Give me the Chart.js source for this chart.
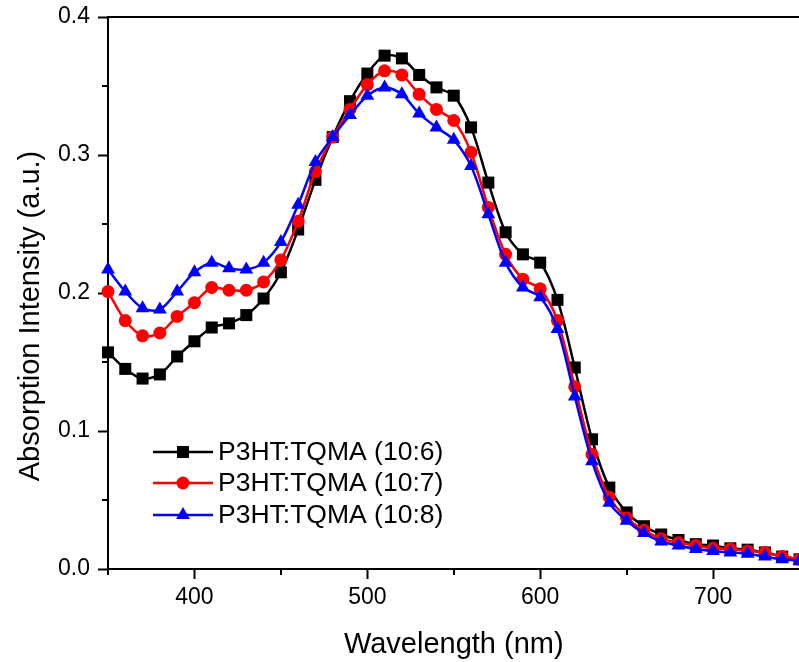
<!DOCTYPE html>
<html lang="en">
<head>
  <meta charset="UTF-8">
  <title>Absorption spectra - P3HT:TQMA</title>
  <script src="https://cdn.jsdelivr.net/npm/chart.js"></script>
  <style>
    html, body { margin: 0; padding: 0; background: #fff; overflow: hidden; }
    canvas { display: block; }
  </style>
</head>
<body>
  <canvas id="absChart" width="808" height="662"></canvas>
  <script>
    // wavelengths (nm)
    const wavelengths = [350, 360, 370, 380, 390, 400, 410, 420, 430, 440, 450, 460, 470, 480, 490,
      500, 510, 520, 530, 540, 550, 560, 570, 580, 590, 600, 610, 620, 630, 640, 650,
      660, 670, 680, 690, 700, 710, 720, 730, 740, 750];

    const ratio106 = [0.157, 0.145, 0.138, 0.141, 0.154, 0.165, 0.175, 0.178, 0.184, 0.196, 0.215,
      0.246, 0.282, 0.313, 0.339, 0.359, 0.372, 0.370, 0.358, 0.349, 0.343,
      0.320, 0.280, 0.244, 0.228, 0.222, 0.195, 0.146, 0.094, 0.059, 0.041,
      0.031, 0.025, 0.021, 0.018, 0.017, 0.015, 0.014, 0.012, 0.009, 0.007];

    const ratio107 = [0.201, 0.180, 0.169, 0.171, 0.183, 0.193, 0.204, 0.202, 0.202, 0.208, 0.224,
      0.252, 0.288, 0.313, 0.333, 0.351, 0.361, 0.358, 0.344, 0.333, 0.325,
      0.302, 0.262, 0.228, 0.210, 0.203, 0.180, 0.132, 0.083, 0.052, 0.037,
      0.028, 0.022, 0.019, 0.017, 0.015, 0.0145, 0.013, 0.012, 0.009, 0.007];

    const ratio108 = [0.217, 0.201, 0.189, 0.188, 0.201, 0.215, 0.222, 0.218, 0.217, 0.222, 0.237,
      0.264, 0.295, 0.313, 0.329, 0.343, 0.349, 0.344, 0.330, 0.320, 0.311,
      0.292, 0.257, 0.222, 0.204, 0.197, 0.174, 0.125, 0.078, 0.048, 0.035,
      0.026, 0.020, 0.017, 0.0145, 0.013, 0.012, 0.011, 0.009, 0.007, 0.006];

    const seriesLabels = ['P3HT:TQMA (10:6)', 'P3HT:TQMA (10:7)', 'P3HT:TQMA (10:8)'];
    const xMinorTicks = [350, 450, 550, 650, 750];
    const yMinorTicks = [0.05, 0.15, 0.25, 0.35];
    const yTitle = 'Absorption Intensity (a.u.)';

    const FONT = '"Liberation Sans", Arial, sans-serif';

    function toPoints(ys) {
      return wavelengths.map((x, i) => ({ x: x, y: ys[i] }));
    }

    function drawMarker(ctx, style, x, y, r) {
      ctx.beginPath();
      if (style === 'rect') {
        const s = r * Math.SQRT1_2;
        ctx.rect(x - s, y - s, 2 * s, 2 * s);
      } else if (style === 'triangle') {
        ctx.moveTo(x, y - r);
        ctx.lineTo(x + r * 0.866, y + r * 0.5);
        ctx.lineTo(x - r * 0.866, y + r * 0.5);
        ctx.closePath();
      } else {
        ctx.arc(x, y, r, 0, Math.PI * 2);
      }
      ctx.fill();
    }

    // frame top line, minor ticks, y title and legend inside the plot
    const decorations = {
      id: 'decorations',
      afterDraw(chart) {
        const ctx = chart.ctx;
        const area = chart.chartArea;
        const xs = chart.scales.x;
        const ys = chart.scales.y;
        ctx.save();
        ctx.strokeStyle = '#000';
        ctx.lineWidth = 2;
        ctx.beginPath();
        ctx.moveTo(area.left - 1, area.top);
        ctx.lineTo(area.right + 2, area.top);
        ctx.stroke();

        ctx.beginPath();
        xMinorTicks.forEach(v => {
          const px = Math.round(xs.getPixelForValue(v));
          ctx.moveTo(px, area.bottom);
          ctx.lineTo(px, area.bottom + 6);
        });
        yMinorTicks.forEach(v => {
          const py = Math.round(ys.getPixelForValue(v));
          ctx.moveTo(area.left, py);
          ctx.lineTo(area.left - 6, py);
        });
        ctx.stroke();

        // y axis title
        ctx.save();
        ctx.translate(31, 316);
        ctx.rotate(-Math.PI / 2);
        ctx.fillStyle = '#000';
        ctx.font = '29px ' + FONT;
        ctx.textAlign = 'center';
        ctx.textBaseline = 'middle';
        ctx.fillText(yTitle, 0, 0);
        ctx.restore();

        // legend
        const rows = [452, 483, 515];
        chart.data.datasets.forEach((ds, i) => {
          const y = rows[i];
          ctx.strokeStyle = ds.borderColor;
          ctx.lineWidth = 2.5;
          ctx.beginPath();
          ctx.moveTo(153, y);
          ctx.lineTo(213, y);
          ctx.stroke();
          ctx.fillStyle = ds.borderColor;
          drawMarker(ctx, ds.pointStyle, 183, y, ds.pointRadius);
          ctx.fillStyle = '#000';
          ctx.font = '26.5px ' + FONT;
          ctx.textBaseline = 'middle';
          ctx.textAlign = 'left';
          ctx.fillText(ds.label, 218, y + 1);
        });
        ctx.restore();
      }
    };

    const ctx = document.getElementById('absChart').getContext('2d');
    new Chart(ctx, {
      type: 'line',
      data: {
        datasets: [
          {
            label: seriesLabels[0],
            data: toPoints(ratio106),
            borderColor: '#000000',
            backgroundColor: '#000000',
            pointStyle: 'rect',
            pointRadius: 8.5,
            order: 3
          },
          {
            label: seriesLabels[1],
            data: toPoints(ratio107),
            borderColor: '#ff0000',
            backgroundColor: '#ff0000',
            pointStyle: 'circle',
            pointRadius: 6.5,
            order: 2
          },
          {
            label: seriesLabels[2],
            data: toPoints(ratio108),
            borderColor: '#0000ff',
            backgroundColor: '#0000ff',
            pointStyle: 'triangle',
            pointRadius: 8,
            order: 1
          }
        ]
      },
      options: {
        responsive: false,
        animation: false,
        clip: false,
        layout: { padding: { top: 17, right: 1, left: 0, bottom: 0 } },
        elements: {
          line: { borderWidth: 2.5, tension: 0.3, fill: false },
          point: { borderWidth: 0, hoverRadius: 6 }
        },
        plugins: {
          legend: { display: false },
          tooltip: { enabled: false }
        },
        scales: {
          x: {
            type: 'linear',
            min: 350,
            max: 750,
            afterFit(scale) {
              scale.height = 93;
              scale.paddingLeft = 0;
              scale.paddingRight = 0;
            },
            afterBuildTicks(scale) {
              scale.ticks = scale.ticks.filter(t => t.value % 100 === 0);
            },
            ticks: {
              stepSize: 50,
              color: '#000',
              padding: 5,
              maxRotation: 0,
              autoSkip: false,
              font: { family: FONT, size: 23 }
            },
            grid: {
              drawOnChartArea: false,
              drawTicks: true,
              tickLength: 10,
              tickWidth: 2,
              tickColor: '#000'
            },
            border: { display: true, color: '#000', width: 2 },
            title: {
              display: true,
              text: 'Wavelength (nm)',
              color: '#000',
              font: { family: FONT, size: 29 },
              padding: { top: 0, bottom: 0 }
            }
          },
          y: {
            type: 'linear',
            min: 0,
            max: 0.4,
            afterFit(scale) {
              scale.width = 108;
              scale.paddingTop = 0;
              scale.paddingBottom = 0;
            },
            ticks: {
              stepSize: 0.1,
              color: '#000',
              padding: 8,
              font: { family: FONT, size: 23 },
              callback: v => v.toFixed(1)
            },
            grid: {
              drawOnChartArea: false,
              drawTicks: true,
              tickLength: 10,
              tickWidth: 2,
              tickColor: '#000'
            },
            border: { display: true, color: '#000', width: 2 }
          }
        }
      },
      plugins: [decorations]
    });
  </script>
</body>
</html>
